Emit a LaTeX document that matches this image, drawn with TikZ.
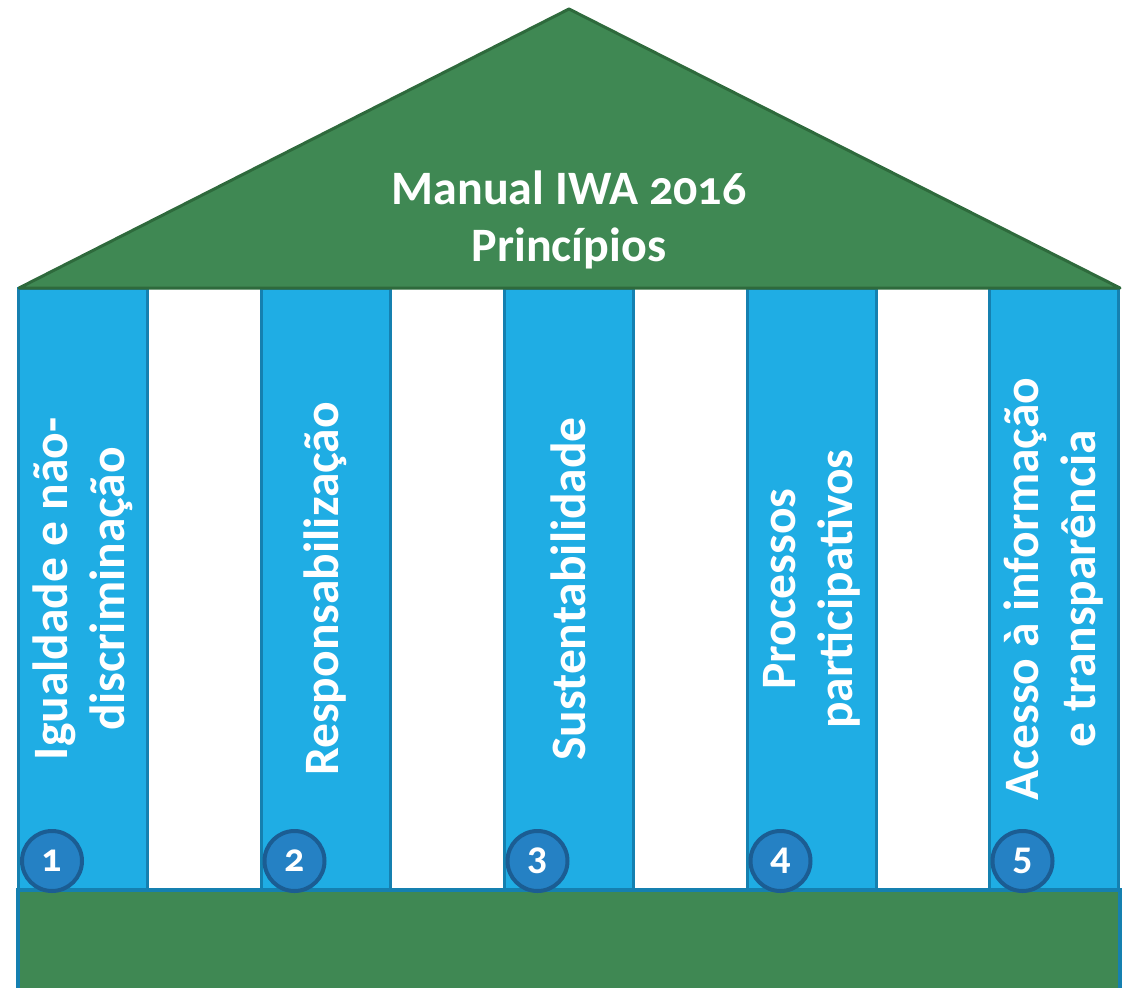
\documentclass[tikz,border=0pt]{standalone}
\usepackage{fontspec}
\setmainfont{Carlito}[Numbers=OldStyle]
\usepackage{tikz}

\definecolor{roofgreen}{HTML}{3F8853}
\definecolor{roofline}{HTML}{2E6A3C}
\definecolor{colblue}{HTML}{1FADE4}
\definecolor{colline}{HTML}{1580B0}
\definecolor{dotblue}{HTML}{2581C4}
\definecolor{dotline}{HTML}{1B5D93}

\tikzset{
  column/.style={draw=colline, fill=colblue, line width=3pt, minimum width=129pt, minimum height=602pt, inner sep=0pt},
  collabel/.style={text=white, font=\bfseries\fontsize{49.5}{57}\selectfont, rotate=90, align=center, inner sep=0pt},
  numdot/.style={circle, draw=dotline, fill=dotblue, line width=4pt, minimum size=60pt, inner sep=0pt, text=white, font=\bfseries\fontsize{40}{40}\selectfont},
}

\begin{document}
\begin{tikzpicture}[x=1pt, y=-1pt]
		\useasboundingbox (0,0) rectangle (1130,988);
		% columns
		\node[column] (col1) at (83,589) {};
		\node[column] (col2) at (325.5,589) {};
		\node[column] (col3) at (568.5,589) {};
		\node[column] (col4) at (811.5,589) {};
		\node[column] (col5) at (1053.5,589) {};
		\node[collabel] (lbl1) at (col1.center) {Igualdade e não-\\discriminação};
		\node[collabel] (lbl2) at (col2.center) {Responsabilização};
		\node[collabel] (lbl3) at (col3.center) {Sustentabilidade};
		\node[collabel] (lbl4) at (col4.center) {Processos\\participativos};
		\node[collabel] (lbl5) at (col5.center) {Acesso à informação\\e transparência};
		% roof
		\draw[draw=roofline, fill=roofgreen, line width=3pt, line join=round] (19,288)
		-- (569,9)
		-- (1120,288)
		-- cycle;
		\node[text=white, font=\bfseries\fontsize{48}{57}\selectfont, align=center] (title) at (569,220) {Manual IWA 2016\\Princípios};
		% base
		\draw[draw=colline, fill=roofgreen, line width=4pt] (18,890) rectangle (1120,1010);
		% numbers
		\foreach \i in {1,...,5}
		\node[numdot] (num\i) at ([xshift=-31pt]col\i.center |- 0,861) {\i};
		\end{tikzpicture}
\end{document}
